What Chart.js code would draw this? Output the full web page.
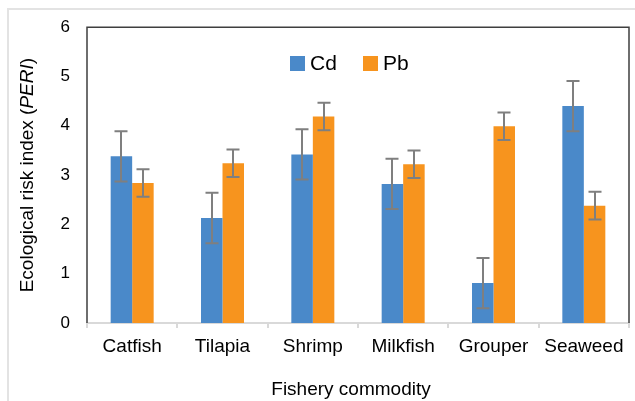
<!DOCTYPE html>
<html>
<head>
<meta charset="utf-8">
<script src="https://cdn.jsdelivr.net/npm/chart.js@4"></script>
<style>
  html, body { margin: 0; padding: 0; background: #fff; overflow: hidden; }
  #frame { position: absolute; left: 7px; top: 8px; width: 700px; height: 500px; border: 2px solid #e3e3e3; }
  #grafico { position: absolute; left: 0; top: 0; }
</style>
</head>
<body>
<div id="frame"></div>
<canvas id="grafico" width="635" height="401"></canvas>
<script>
// dados
const categorias = ["Catfish", "Tilapia", "Shrimp", "Milkfish", "Grouper", "Seaweed"];
const valoresCd = [3.38, 2.13, 3.42, 2.82, 0.81, 4.40];
const valoresPb = [2.84, 3.24, 4.19, 3.22, 3.99, 2.38];
const erroCd = [0.51, 0.51, 0.51, 0.51, 0.51, 0.51];
const erroPb = [0.28, 0.28, 0.28, 0.28, 0.28, 0.28];
const ticksY = [0, 1, 2, 3, 4, 5, 6];

const corCd = "#4a89c9";
const corPb = "#f7941e";
const fonte = "'Liberation Sans', Arial, sans-serif";

// moldura da área do gráfico (esquerda, topo, direita)
const moldura = {
  id: "moldura",
  beforeDatasetsDraw(chart) {
    const { ctx, chartArea: a } = chart;
    ctx.save();
    ctx.strokeStyle = "#3f3f3f";
    ctx.lineWidth = 1.5;
    ctx.beginPath();
    ctx.moveTo(a.left, a.bottom);
    ctx.lineTo(a.left, a.top);
    ctx.lineTo(a.right, a.top);
    ctx.lineTo(a.right, a.bottom);
    ctx.stroke();
    ctx.restore();
  }
};

// barras de erro
const barrasErro = {
  id: "barrasErro",
  afterDatasetsDraw(chart) {
    const { ctx } = chart;
    const y = chart.scales.y;
    ctx.save();
    ctx.strokeStyle = "#7f7f7f";
    ctx.lineWidth = 2;
    chart.data.datasets.forEach((ds, i) => {
      const meta = chart.getDatasetMeta(i);
      meta.data.forEach((bar, j) => {
        const v = ds.data[j], e = ds.erro[j];
        const y1 = y.getPixelForValue(v + e);
        const y2 = y.getPixelForValue(v - e);
        const x = Math.round(bar.x);
        ctx.beginPath();
        ctx.moveTo(x, y1); ctx.lineTo(x, y2);
        ctx.moveTo(x - 6.5, y1); ctx.lineTo(x + 6.5, y1);
        ctx.moveTo(x - 6.5, y2); ctx.lineTo(x + 6.5, y2);
        ctx.stroke();
      });
    });
    ctx.restore();
  }
};

// legenda dentro da área, títulos dos eixos (PERI em itálico)
const textos = {
  id: "textos",
  afterDraw(chart) {
    const { ctx, chartArea: a } = chart;
    ctx.save();
    // legenda
    const itens = [{ x: 290, ds: chart.data.datasets[0] }, { x: 363, ds: chart.data.datasets[1] }];
    ctx.font = "21px " + fonte;
    ctx.textBaseline = "middle";
    ctx.textAlign = "left";
    itens.forEach(it => {
      ctx.fillStyle = it.ds.backgroundColor;
      ctx.fillRect(it.x, 56, 15, 15);
      ctx.fillStyle = "#000";
      ctx.fillText(it.ds.label, it.x + 20, 64);
    });
    // título X
    ctx.font = "19px " + fonte;
    ctx.textAlign = "center";
    ctx.fillText("Fishery commodity", 351, 390);
    // título Y
    ctx.textAlign = "left";
    const partes = [
      { t: "Ecological risk index (", f: "19px " + fonte },
      { t: "PERI", f: "italic 19px " + fonte },
      { t: ")", f: "19px " + fonte }
    ];
    let total = 0;
    partes.forEach(p => { ctx.font = p.f; p.w = ctx.measureText(p.t).width; total += p.w; });
    ctx.translate(28, (a.top + a.bottom) / 2);
    ctx.rotate(-Math.PI / 2);
    let px = -total / 2;
    partes.forEach(p => { ctx.font = p.f; ctx.fillText(p.t, px, 0); px += p.w; });
    ctx.restore();
  }
};

const ctxGrafico = document.getElementById("grafico").getContext("2d");
new Chart(ctxGrafico, {
  type: "bar",
  data: {
    labels: categorias,
    datasets: [
      { label: "Cd", data: valoresCd, erro: erroCd, backgroundColor: corCd },
      { label: "Pb", data: valoresPb, erro: erroPb, backgroundColor: corPb }
    ]
  },
  options: {
    responsive: false,
    animation: false,
    devicePixelRatio: 1,
    categoryPercentage: 0.476,
    barPercentage: 1,
    layout: { padding: { top: 27, right: 6, left: 0, bottom: 0 } },
    plugins: { legend: { display: false }, tooltip: { enabled: false } },
    scales: {
      x: {
        afterFit: s => { s.height = 78; },
        grid: { offset: true, drawOnChartArea: false, color: "#d9d9d9", tickLength: 5, lineWidth: 2 },
        border: { color: "#d9d9d9", width: 2 },
        ticks: { color: "#000", font: { size: 19, family: fonte }, padding: 7 }
      },
      y: {
        min: 0, max: 6,
        afterFit: s => { s.width = 87; },
        afterBuildTicks: s => { s.ticks = ticksY.map(v => ({ value: v })); },
        grid: { display: false, drawTicks: false },
        border: { display: false },
        ticks: { color: "#000", font: { size: 17, family: fonte }, padding: 17 }
      }
    }
  },
  plugins: [moldura, barrasErro, textos]
});
</script>
</body>
</html>
